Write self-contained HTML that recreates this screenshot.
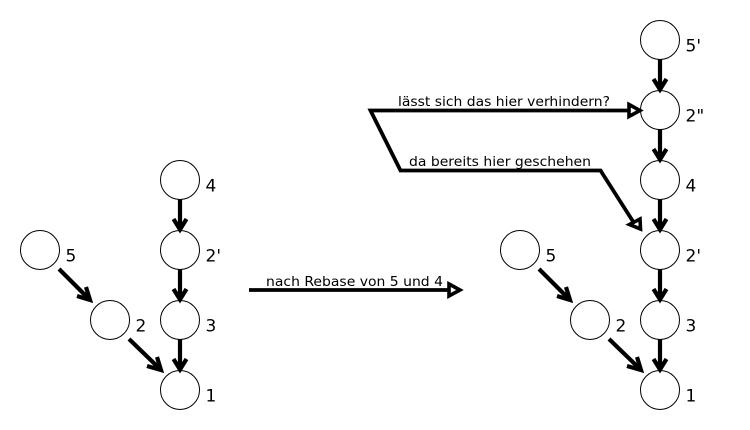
<!DOCTYPE html>
<html>
<head>
<meta charset="utf-8">
<style>
html,body{margin:0;padding:0;background:#fff;width:750px;height:430px;overflow:hidden}
svg{display:block}
text{font-family:"DejaVu Sans",sans-serif;fill:#000}
.n{font-size:17px}
.e{font-size:13px}
circle{fill:#fff;stroke:#000;stroke-width:1}
.l{fill:none;stroke:#000;stroke-width:4.200;stroke-linejoin:miter}
.p{fill:none;stroke:#000;stroke-width:3.800;stroke-linejoin:miter}
.h{fill:#fff;stroke:#000;stroke-width:3.600;stroke-linejoin:miter}
</style>
</head>
<body>
<svg width="750" height="430" viewBox="0 0 750 430" xmlns="http://www.w3.org/2000/svg">
<circle cx="180" cy="180" r="19.5"/>
<circle cx="180" cy="250" r="19.5"/>
<circle cx="180" cy="320" r="19.5"/>
<circle cx="180" cy="390" r="19.5"/>
<circle cx="40" cy="250" r="19.5"/>
<circle cx="110" cy="320" r="19.5"/>
<circle cx="660" cy="40" r="19.5"/>
<circle cx="660" cy="110" r="19.5"/>
<circle cx="660" cy="180" r="19.5"/>
<circle cx="660" cy="250" r="19.5"/>
<circle cx="660" cy="320" r="19.5"/>
<circle cx="660" cy="390" r="19.5"/>
<circle cx="520" cy="250" r="19.5"/>
<circle cx="590" cy="320" r="19.5"/>

<path class="l" d="M180 199V228M173.500 219L180 229.500L186.500 219"/>
<path class="l" d="M180 269V298M173.500 289L180 299.500L186.500 289"/>
<path class="l" d="M180 339V368M173.500 359L180 369.500L186.500 359"/>
<path class="l" d="M59 269L89 299M77 296L90 300L86 287"/>
<path class="l" d="M129 339L160 369M147 366L161 370L157 357"/>

<path class="l" d="M660 59V88M653.500 79L660 89.500L666.500 79"/>
<path class="l" d="M660 129V158M653.500 149L660 159.500L666.500 149"/>
<path class="l" d="M660 199V228M653.500 219L660 229.500L666.500 219"/>
<path class="l" d="M660 269V298M653.500 289L660 299.500L666.500 289"/>
<path class="l" d="M660 339V368M653.500 359L660 369.500L666.500 359"/>
<path class="l" d="M539 269L569 299M557 296L570 300L566 287"/>
<path class="l" d="M609 339L640 369M627 366L641 370L637 357"/>

<path class="p" d="M249 290H450"/>
<path class="h" d="M449 284L460 290L449 296Z"/>
<path class="p" d="M628 110.500H370.500L400.500 170.500H600.500L634 223"/>
<path class="h" d="M629 104.500L640 110.500L629 116.500Z"/>
<path class="h" d="M629.500 224.500L640 219L640.500 229Z"/>

<text class="n" x="205.500" y="191.500">4</text>
<text class="n" x="205.500" y="261.500">2'</text>
<text class="n" x="205.500" y="331.500">3</text>
<text class="n" x="205.500" y="401.500">1</text>
<text class="n" x="65.500" y="261.500">5</text>
<text class="n" x="135.500" y="331.500">2</text>
<text class="n" x="685.500" y="51.500">5'</text>
<text class="n" x="685.500" y="121.500">2"</text>
<text class="n" x="685.500" y="191.500">4</text>
<text class="n" x="685.500" y="261.500">2'</text>
<text class="n" x="685.500" y="331.500">3</text>
<text class="n" x="685.500" y="401.500">1</text>
<text class="n" x="545.500" y="261.500">5</text>
<text class="n" x="615.500" y="331.500">2</text>

<text class="e" x="266" y="286" textLength="177" lengthAdjust="spacingAndGlyphs">nach Rebase von 5 und 4</text>
<text class="e" x="398" y="106" textLength="212" lengthAdjust="spacingAndGlyphs">lässt sich das hier verhindern?</text>
<text class="e" x="409" y="166" textLength="182" lengthAdjust="spacingAndGlyphs">da bereits hier geschehen</text>
</svg>
</body>
</html>
